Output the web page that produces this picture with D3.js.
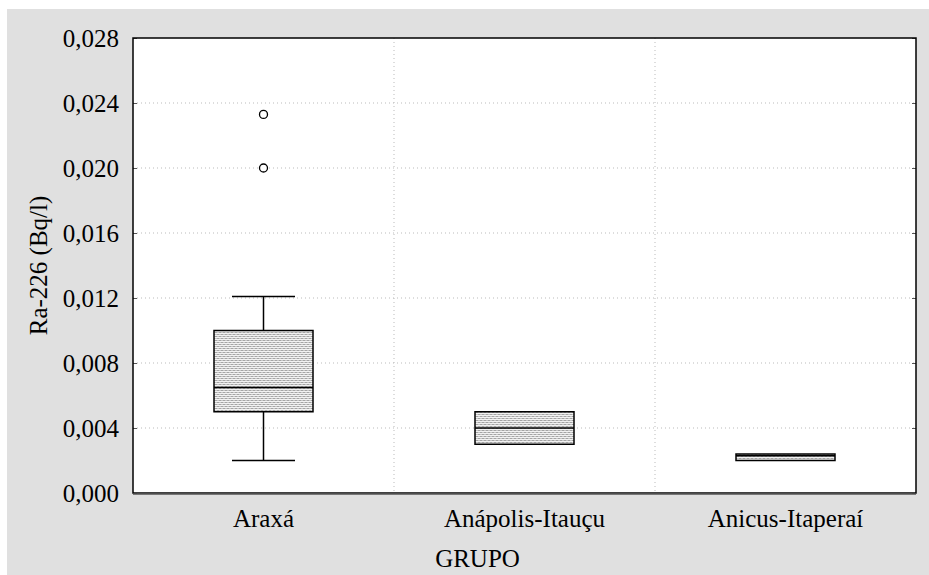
<!DOCTYPE html>
<html>
<head>
<meta charset="utf-8">
<script src="https://cdn.jsdelivr.net/npm/d3@7"></script>
<style>
  body { margin: 0; background: #fff; }
</style>
</head>
<body>
<div id="chart"></div>
<script>

// categories and box stats
var groups = ["Araxá", "Anápolis-Itauçu", "Anicus-Itaperaí"];
var whiskerLow = [0.0020, 0.0030, 0.0020];
var q1 = [0.0050, 0.0030, 0.0020];
var median = [0.0065, 0.0040, 0.0023];
var q3 = [0.0100, 0.0050, 0.0024];
var whiskerHigh = [0.0121, 0.0050, 0.0024];
var outliers = [[0.0233, 0.0200], [], []];
var yTicks = [0, 0.004, 0.008, 0.012, 0.016, 0.020, 0.024, 0.028];

var width = 929,
    height = 575;
var margin = {left: 133, top: 38, right: 13, bottom: 82};
var serif = "'Liberation Serif', 'Times New Roman', Times, 'DejaVu Serif', serif";

var svg = d3.select("#chart").append("svg")
    .attr("width", width)
    .attr("height", height)
    .attr("font-family", serif);

var defs = svg.append("defs");
var pat = defs.append("pattern")
    .attr("id", "stipple")
    .attr("width", 4).attr("height", 4)
    .attr("patternUnits", "userSpaceOnUse");
pat.append("rect").attr("width", 4).attr("height", 4).attr("fill", "#f2f2f2");
pat.append("rect").attr("width", 1).attr("height", 1).attr("fill", "#555");
pat.append("rect").attr("x", 2).attr("y", 2).attr("width", 1).attr("height", 1).attr("fill", "#555");
pat.append("rect").attr("x", 2).attr("y", 0).attr("width", 1).attr("height", 1).attr("fill", "#999");
pat.append("rect").attr("x", 0).attr("y", 2).attr("width", 1).attr("height", 1).attr("fill", "#999");

// grey frame
svg.append("rect")
    .attr("x", 7).attr("y", 9)
    .attr("width", width - 7).attr("height", height - 9)
    .attr("fill", "#e0e0e0");

var x0 = margin.left, x1 = width - margin.right;
var y0 = height - margin.bottom, y1 = margin.top;

svg.append("rect")
    .attr("x", x0).attr("y", y1)
    .attr("width", x1 - x0).attr("height", y0 - y1)
    .attr("fill", "#fff");

var xScale = d3.scaleBand()
    .domain(groups)
    .range([x0, x1]);

var yScale = d3.scaleLinear()
    .domain([0, 0.028])
    .range([y0, y1]);

var fmt = function(d){ return d3.format(".3f")(d).replace(".", ","); };

// grid
var grid = svg.append("g")
    .attr("stroke", "#bbb")
    .attr("stroke-dasharray", "1,3");

grid.selectAll(".hgrid")
    .data(yTicks.slice(1, -1))
    .enter()
    .append("line")
    .attr("x1", x0).attr("x2", x1)
    .attr("y1", function(d){ return yScale(d); })
    .attr("y2", function(d){ return yScale(d); });

grid.selectAll(".vgrid")
    .data(groups.slice(1))
    .enter()
    .append("line")
    .attr("x1", function(d){ return xScale(d); })
    .attr("x2", function(d){ return xScale(d); })
    .attr("y1", y1).attr("y2", y0);

// y axis
var yAxis = d3.axisLeft(yScale).tickValues(yTicks).tickFormat(fmt).tickSize(-4).tickPadding(14);
var yAxisG = svg.append("g")
    .attr("transform", "translate(" + x0 + ",0)")
    .call(yAxis);
yAxisG.attr("font-family", serif).attr("font-size", 25);
yAxisG.select(".domain").remove();
yAxisG.selectAll("text").attr("fill", "#000").attr("dy", "0.35em");
yAxisG.selectAll("line").attr("stroke", "#555");

var yAxisR = d3.axisRight(yScale).tickValues(yTicks).tickFormat("").tickSize(-4);
var yAxisRG = svg.append("g")
    .attr("transform", "translate(" + x1 + ",0)")
    .call(yAxisR);
yAxisRG.select(".domain").remove();
yAxisRG.selectAll("line").attr("stroke", "#555");

// x axis labels
var xAxis = d3.axisBottom(xScale).tickSize(0).tickPadding(16);
var xAxisG = svg.append("g")
    .attr("transform", "translate(0," + y0 + ")")
    .call(xAxis);
xAxisG.attr("font-family", serif).attr("font-size", 25);
xAxisG.select(".domain").remove();
xAxisG.selectAll("text").attr("fill", "#000");

// boxes
var boxW = 99, capW = 63;
var boxes = svg.append("g").selectAll(".box")
    .data(groups)
    .enter()
    .append("g")
    .attr("transform", function(d){ return "translate(" + (xScale(d) + xScale.bandwidth() / 2) + ",0)"; });

boxes.append("line")
    .attr("y1", function(d, i){ return yScale(whiskerLow[i]); })
    .attr("y2", function(d, i){ return yScale(q1[i]); })
    .attr("stroke", "#000").attr("stroke-width", 1.5);
boxes.append("line")
    .attr("y1", function(d, i){ return yScale(q3[i]); })
    .attr("y2", function(d, i){ return yScale(whiskerHigh[i]); })
    .attr("stroke", "#000").attr("stroke-width", 1.5);
boxes.filter(function(d, i){ return whiskerLow[i] < q1[i]; })
    .append("line")
    .attr("x1", -capW / 2).attr("x2", capW / 2)
    .attr("y1", function(d){ var i = groups.indexOf(d); return yScale(whiskerLow[i]); })
    .attr("y2", function(d){ var i = groups.indexOf(d); return yScale(whiskerLow[i]); })
    .attr("stroke", "#000").attr("stroke-width", 1.5);
boxes.filter(function(d, i){ return whiskerHigh[i] > q3[i]; })
    .append("line")
    .attr("x1", -capW / 2).attr("x2", capW / 2)
    .attr("y1", function(d){ var i = groups.indexOf(d); return yScale(whiskerHigh[i]); })
    .attr("y2", function(d){ var i = groups.indexOf(d); return yScale(whiskerHigh[i]); })
    .attr("stroke", "#000").attr("stroke-width", 1.5);

boxes.append("rect")
    .attr("x", -boxW / 2).attr("width", boxW)
    .attr("y", function(d, i){ return yScale(q3[i]); })
    .attr("height", function(d, i){ return yScale(q1[i]) - yScale(q3[i]); })
    .attr("fill", "url(#stipple)")
    .attr("stroke", "#000").attr("stroke-width", 1.5);

boxes.append("line")
    .attr("x1", -boxW / 2).attr("x2", boxW / 2)
    .attr("y1", function(d, i){ return yScale(median[i]); })
    .attr("y2", function(d, i){ return yScale(median[i]); })
    .attr("stroke", "#000").attr("stroke-width", 1.5);

boxes.selectAll(".out")
    .data(function(d, i){ return outliers[i]; })
    .enter()
    .append("circle")
    .attr("cy", function(d){ return yScale(d); })
    .attr("r", 4)
    .attr("fill", "#fff")
    .attr("stroke", "#000").attr("stroke-width", 1.3);

// frame
svg.append("rect")
    .attr("x", x0).attr("y", y1)
    .attr("width", x1 - x0).attr("height", y0 - y1)
    .attr("fill", "none")
    .attr("stroke", "#000").attr("stroke-width", 1.5);
svg.append("line")
    .attr("x1", x0).attr("x2", x1)
    .attr("y1", y0 + 1).attr("y2", y0 + 1)
    .attr("stroke", "#555").attr("stroke-width", 1.5);

// titles
svg.append("text")
    .attr("transform", "translate(47," + ((y0 + y1) / 2) + ") rotate(-90)")
    .attr("text-anchor", "middle")
    .attr("font-size", 25)
    .text("Ra-226 (Bq/l)");

svg.append("text")
    .attr("x", (x0 + x1) / 2 - 47)
    .attr("y", 567)
    .attr("text-anchor", "middle")
    .attr("font-size", 25)
    .text("GRUPO");

</script>
</body>
</html>
